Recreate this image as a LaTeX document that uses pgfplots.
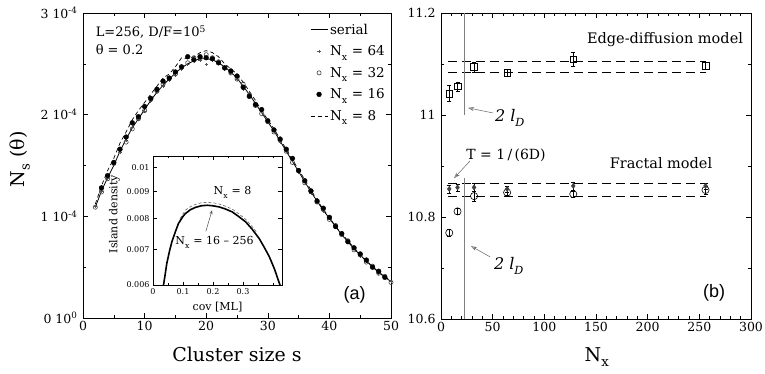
\documentclass[border=0pt]{standalone}
\usepackage{pgfplots}
\pgfplotsset{compat=1.18}
\usepackage{fontspec}
\setmainfont{DejaVu Serif}
\newfontfamily\helv{Liberation Sans}
\usetikzlibrary{arrows.meta}
\newcommand{\lsub}[1]{\raisebox{-2.5pt}{\textsubscript{#1}}}

\pgfplotstableread{
s serial n8
2 1.09 1.12
3 1.25 1.30
4 1.38 1.45
5 1.50 1.57
6 1.64 1.72
7 1.76 1.83
8 1.87 1.95
9 1.96 2.04
10 2.05 2.12
11 2.14 2.20
12 2.22 2.28
13 2.29 2.36
14 2.35 2.40
15 2.41 2.47
16 2.46 2.56
17 2.50 2.55
18 2.53 2.57
19 2.55 2.61
20 2.55 2.63
21 2.54 2.61
22 2.51 2.57
23 2.47 2.50
24 2.42 2.45
25 2.36 2.40
26 2.28 2.32
27 2.20 2.23
28 2.11 2.14
29 2.02 2.04
30 1.93 1.95
31 1.84 1.86
32 1.74 1.76
33 1.64 1.66
34 1.54 1.56
35 1.44 1.46
36 1.34 1.36
37 1.24 1.26
38 1.15 1.16
39 1.06 1.07
40 0.98 0.99
41 0.90 0.90
42 0.82 0.83
43 0.75 0.76
44 0.68 0.69
45 0.62 0.62
46 0.56 0.56
47 0.50 0.51
48 0.45 0.45
49 0.40 0.41
50 0.36 0.36
}\serialtab

\pgfplotstableread{
s n64 n32 n16
2 1.10 1.09 nan
3 1.25 1.24 1.28
4 1.37 1.37 1.40
5 1.51 1.52 1.53
6 1.63 1.66 1.66
7 1.75 1.73 1.78
8 1.88 1.86 1.92
9 1.95 1.96 1.98
10 2.03 2.04 2.08
11 2.13 2.15 2.16
12 2.23 2.23 2.25
13 2.28 2.30 2.33
14 2.34 2.36 2.36
15 2.39 2.40 2.42
16 2.45 2.47 2.47
17 2.49 2.51 2.57
18 2.52 2.56 2.54
19 2.53 2.56 2.57
20 2.49 2.59 2.56
21 2.53 2.56 2.55
22 2.50 2.52 2.51
23 2.45 2.46 2.46
24 2.41 2.41 2.43
25 2.35 2.35 2.38
26 2.25 2.30 2.27
27 2.21 2.19 2.18
28 2.10 2.09 2.10
29 2.03 2.01 2.05
30 1.92 1.93 1.94
31 1.84 1.83 1.85
32 1.73 1.75 1.76
33 1.64 1.64 1.66
34 1.55 1.53 1.57
35 1.43 1.45 1.45
36 1.34 1.33 1.35
37 1.23 1.25 1.25
38 1.16 1.14 1.15
39 1.05 1.07 1.08
40 0.98 0.97 0.99
41 0.89 0.91 0.90
42 0.83 0.82 0.83
43 0.74 0.76 0.75
44 0.68 0.67 0.69
45 0.61 0.62 0.63
46 0.56 0.55 0.57
47 0.50 0.51 0.50
48 0.44 0.44 0.46
49 0.40 0.41 0.40
50 0.36 0.35 nan
}\partab

\pgfplotstableread{
cov rho
0.035 0.00600
0.040 0.00625
0.046 0.00659
0.055 0.00695
0.063 0.00724
0.075 0.00757
0.085 0.00784
0.100 0.00808
0.108 0.00818
0.125 0.00832
0.141 0.00840
0.160 0.00846
0.181 0.00848
0.200 0.00846
0.220 0.00842
0.240 0.00835
0.264 0.00824
0.285 0.00808
0.309 0.00789
0.330 0.00765
0.354 0.00734
0.370 0.00708
0.388 0.00678
0.405 0.00643
0.421 0.00605
0.4235 0.00600
}\insettab

\pgfplotstableread{
cov rho
0.090 0.00800
0.108 0.00830
0.125 0.00843
0.141 0.00851
0.160 0.00857
0.181 0.00859
0.200 0.00857
0.220 0.00853
0.240 0.00845
0.264 0.00834
0.285 0.00818
0.309 0.00798
0.330 0.00774
0.345 0.00755
}\insetetab

\pgfplotstableread{
N edge edgeerr frac fracerr circ circerr
8 11.042 0.016 10.855 0.008 10.769 0.006
16 11.056 0.009 10.858 0.007 10.811 0.006
32 11.094 0.010 10.858 0.008 10.841 0.010
64 11.083 0.007 10.855 0.006 10.848 0.006
128 11.109 0.014 10.861 0.008 10.845 0.006
256 11.096 0.007 10.861 0.006 10.853 0.008
}\ldtab

\pgfplotsset{
  myax/.style={
    scale only axis,
    tick align=inside,
    major tick length=5pt,
    minor tick length=3pt,
    tick style={black, line width=0.6pt},
    axis line style={line width=0.8pt, black},
    /pgf/number format/assume math mode=true,
    ticklabel style={font=\fontsize{12.5}{14}\selectfont},
    label style={font=\fontsize{19}{22}\selectfont},
  }
}

\begin{document}
\begin{tikzpicture}
\useasboundingbox (0pt,0pt) rectangle (765pt,374pt);

% ---------------- left panel ----------------
\begin{axis}[myax,
  at={(83pt,56pt)}, anchor=south west,
  width=308pt, height=305pt,
  xmin=0, xmax=50, ymin=0, ymax=3,
  xtick={0,10,...,50}, minor x tick num=1,
  ytick={0,1,2,3}, minor y tick num=1,
  yticklabels={0 10\textsuperscript{0}, 1 10\textsuperscript{-4}, 2 10\textsuperscript{-4}, 3 10\textsuperscript{-4}},
  yticklabel style={xshift=-2pt},
  xlabel={Cluster size s},
  ylabel={N\lsub{s} (θ)},
  xlabel style={at={(axis description cs:0.5,-0.121)}, anchor=center},
  ylabel style={at={(axis description cs:-0.205,0.52)}, anchor=center},
  legend style={draw=none, fill=none, at={(0.99,0.975)}, anchor=north east,
    font=\fontsize{13.5}{14}\selectfont, row sep=6pt, inner sep=1pt},
  legend cell align=left,
]
\addplot[black, line width=0.8pt] table[x=s, y=serial] {\serialtab};
\addlegendentry{serial}
\addplot[only marks, mark=+, mark size=1.6pt, gray!70!black, mark options={line width=0.7pt}] table[x=s, y=n64] {\partab};
\addlegendentry{N\lsub{x} = 64}
\addplot[only marks, mark=o, mark size=2.1pt, black!75, mark options={line width=0.6pt, fill=white}] table[x=s, y=n32] {\partab};
\addlegendentry{N\lsub{x} = 32}
\addplot[only marks, mark=*, mark size=2.4pt, black] table[x=s, y=n16] {\partab};
\addlegendentry{N\lsub{x} = 16}
\addplot[black, line width=0.7pt, dash pattern=on 4pt off 3pt] table[x=s, y=n8] {\serialtab};
\addlegendentry{N\lsub{x} = 8}

\node[anchor=west, font=\fontsize{13}{15}\selectfont] at (rel axis cs:0.03,0.938) {L=256, D/F=10\textsuperscript{5}};
\node[anchor=west, font=\fontsize{13}{15}\selectfont] at (rel axis cs:0.03,0.879) {θ = 0.2};
\node[font=\helv\fontsize{18}{20}\selectfont] at (rel axis cs:0.882,0.075) {(a)};
\end{axis}

% ---------------- inset ----------------
\begin{axis}[
  scale only axis,
  at={(153pt,89pt)}, anchor=south west,
  width=129pt, height=129pt,
  axis background/.style={fill=white},
  tick align=inside,
  major tick length=3.5pt, minor tick length=2pt,
  tick style={black, line width=0.5pt},
  axis line style={line width=0.7pt, black},
  xmin=0, xmax=0.43,
  ymode=log, ymin=0.006, ymax=0.0105,
  xtick={0,0.1,0.2,0.3},
  minor xtick={0.05,0.15,0.25,0.35,0.4},
  xticklabels={0,0.1,0.2,0.3},
  ytick={0.006,0.007,0.008,0.009,0.01},
  yticklabels={0.006,0.007,0.008,0.009,0.01},
  minor ytick={},
  ticklabel style={font=\fontsize{8}{10}\selectfont},
  xlabel={cov [ML]}, ylabel={Island density},
  label style={font=\fontsize{11}{13}\selectfont},
  xlabel style={at={(axis description cs:0.5,-0.17)}, anchor=center},
  ylabel style={at={(axis description cs:-0.3,0.55)}, anchor=center},
]
\addplot[black!60, line width=0.6pt, dash pattern=on 3pt off 2pt] table[x=cov, y=rho] {\insetetab};
\addplot[black, line width=1.6pt] table[x=cov, y=rho] {\insettab};
\node[font=\fontsize{11}{13}\selectfont] at (axis cs:0.265,0.00897) {N\lsub{x} = 8};
\node[font=\fontsize{11}{13}\selectfont] at (axis cs:0.205,0.00722) {N\lsub{x} = 16 – 256};
\draw[black!70, line width=0.5pt, -{Stealth[length=4pt, width=3pt, open]}] (axis cs:0.176,0.00757) -- (axis cs:0.197,0.00830);
\end{axis}

% ---------------- right panel ----------------
\begin{axis}[myax,
  at={(441pt,55pt)}, anchor=south west,
  width=310pt, height=306pt,
  xmin=0, xmax=300, ymin=10.6, ymax=11.2,
  xtick={0,50,...,300}, minor x tick num=4,
  ytick={10.6,10.8,11,11.2},
  minor ytick={10.7,10.9,11.1},
  yticklabel style={/pgf/number format/fixed, xshift=-2pt},
  xlabel={N\lsub{x}},
  xlabel style={at={(axis description cs:0.503,-0.125)}, anchor=center},
  error bars/error bar style={black, line width=0.5pt},
  error bars/error mark options={rotate=90, mark size=2pt, black, line width=0.5pt},
]
% reference lines
\addplot[black, line width=0.8pt, dash pattern=on 9pt off 5pt] coordinates {(7,11.106) (256,11.106)};
\addplot[black, line width=0.8pt, dash pattern=on 9pt off 5pt] coordinates {(7,11.084) (256,11.084)};
\addplot[black, line width=0.8pt, dash pattern=on 9pt off 5pt] coordinates {(7,10.866) (256,10.866)};
\addplot[black, line width=0.8pt, dash pattern=on 9pt off 5pt] coordinates {(7,10.841) (256,10.841)};
\addplot[gray, line width=1.1pt] coordinates {(23,11.0) (23,11.2)};
\addplot[gray, line width=1.1pt] coordinates {(23,10.6) (23,10.877)};
% data
\addplot[only marks, mark=square, mark size=3.3pt, black, mark options={line width=0.6pt, fill=white},
  error bars/.cd, y dir=both, y explicit]
  table[x=N, y=edge, y error=edgeerr] {\ldtab};
\addplot[only marks, mark=o, mark size=3.6pt, black, mark options={line width=0.6pt},
  error bars/.cd, y dir=both, y explicit]
  table[x=N, y=circ, y error=circerr] {\ldtab};
\addplot[only marks, mark=diamond*, mark size=2.6pt, black!75,
  error bars/.cd, y dir=both, y explicit]
  table[x=N, y=frac, y error=fracerr] {\ldtab};

\node[font=\fontsize{19}{22}\selectfont] at (rel axis cs:-0.116,0.52) {\textit{l}\lsub{D}};
\node[font=\fontsize{14.5}{16}\selectfont] at (axis cs:216.8,11.147) {Edge-diffusion model};
\node[font=\fontsize{14.5}{16}\selectfont] at (axis cs:212.9,10.906) {Fractal model};
\node[font=\fontsize{14}{16}\selectfont] at (axis cs:62.9,10.922) {T = 1\,/\,(6D)};
\node[font=\fontsize{16}{20}\selectfont] at (axis cs:66.8,10.994) {\itshape 2 l\lsub{D}};
\node[font=\fontsize{16}{20}\selectfont] at (axis cs:65.8,10.704) {\itshape 2 l\lsub{D}};
\node[font=\helv\fontsize{18}{20}\selectfont] at (axis cs:264.2,10.651) {(b)};
\draw[black!60, line width=0.5pt, -{Stealth[length=6pt, width=4pt, open]}] (axis cs:50.3,11.004) -- (axis cs:26.1,11.014);
\draw[black!60, line width=0.5pt, -{Stealth[length=6pt, width=4pt, open]}] (axis cs:47.4,10.722) -- (axis cs:29.0,10.743);
\draw[black!60, line width=0.5pt, -{Stealth[length=6pt, width=4pt, open]}] (axis cs:28.1,10.910) -- (axis cs:12.6,10.876);
\end{axis}
\end{tikzpicture}
\end{document}
